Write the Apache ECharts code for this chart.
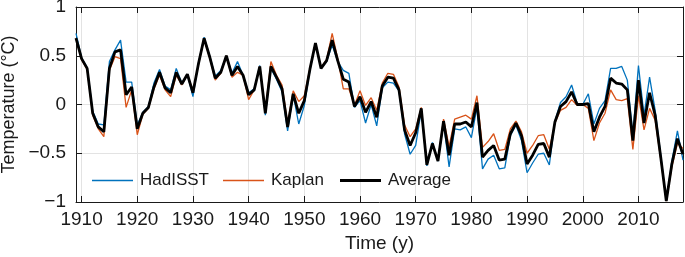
<!DOCTYPE html>
<html>
<head>
<meta charset="utf-8">
<script src="https://cdn.jsdelivr.net/npm/echarts@6/dist/echarts.min.js"></script>
<style>
  html, body { margin: 0; padding: 0; background: #fff; }
  #chart { width: 685px; height: 257px; }
</style>
</head>
<body>
<div id="chart"></div>
<script>
// annual anomalies, 1909..2018
const FIRST_YEAR = 1909;
const LAST_YEAR = 2018;

const hadisst = [
  0.73,
  0.48, 0.38, -0.07, -0.20, -0.21, 0.44, 0.56, 0.66, 0.23, 0.23,
  -0.21, -0.08, -0.02, 0.22, 0.36, 0.19, 0.15, 0.37, 0.22, 0.31,
  0.08, 0.43, 0.69, 0.50, 0.29, 0.35, 0.50, 0.32, 0.44, 0.30,
  0.12, 0.16, 0.40, -0.11, 0.37, 0.26, 0.13, -0.27, 0.10, -0.20,
  -0.01, 0.35, 0.63, 0.37, 0.44, 0.61, 0.44, 0.35, 0.32, -0.03,
  0.04, -0.19, 0.00, -0.22, 0.17, 0.23, 0.22, 0.14, -0.30, -0.51,
  -0.42, -0.06, -0.63, -0.39, -0.58, -0.19, -0.64, -0.25, -0.26, -0.23,
  -0.34, -0.03, -0.66, -0.56, -0.52, -0.66, -0.65, -0.32, -0.21, -0.37,
  -0.70, -0.60, -0.51, -0.50, -0.62, -0.17, 0.02, 0.08, 0.20, 0.01,
  0.00, 0.11, -0.20, -0.04, 0.04, 0.37, 0.37, 0.39, 0.25, -0.30,
  0.40, -0.11, 0.28, -0.06, -0.52, -0.99, -0.58, -0.27, -0.57
];

const kaplan = [
  0.68,
  0.46, 0.36, -0.11, -0.25, -0.33, 0.35, 0.49, 0.47, -0.03, 0.15,
  -0.31, -0.10, -0.04, 0.16, 0.30, 0.15, 0.08, 0.30, 0.20, 0.31,
  0.14, 0.41, 0.67, 0.48, 0.25, 0.32, 0.50, 0.28, 0.33, 0.30,
  0.05, 0.15, 0.39, -0.06, 0.44, 0.30, 0.20, -0.19, 0.14, 0.03,
  0.09, 0.37, 0.63, 0.38, 0.46, 0.73, 0.47, 0.16, 0.16, -0.01,
  0.14, -0.01, 0.07, -0.06, 0.22, 0.32, 0.31, 0.18, -0.21, -0.33,
  -0.25, -0.03, -0.60, -0.41, -0.57, -0.15, -0.43, -0.15, -0.13, -0.11,
  -0.15, 0.09, -0.44, -0.38, -0.30, -0.47, -0.46, -0.25, -0.17, -0.28,
  -0.50, -0.42, -0.32, -0.31, -0.46, -0.19, -0.06, -0.03, 0.05, -0.01,
  0.00, -0.04, -0.37, -0.19, -0.09, 0.15, 0.05, 0.04, 0.06, -0.46,
  0.09, -0.26, -0.04, -0.16, -0.56, -0.99, -0.64, -0.40, -0.45
];

const average = [
  0.68,
  0.47, 0.37, -0.09, -0.23, -0.28, 0.37, 0.54, 0.56, 0.10, 0.18,
  -0.25, -0.09, -0.03, 0.18, 0.33, 0.17, 0.12, 0.33, 0.21, 0.31,
  0.12, 0.42, 0.68, 0.49, 0.27, 0.33, 0.50, 0.30, 0.39, 0.30,
  0.10, 0.15, 0.39, -0.09, 0.39, 0.28, 0.16, -0.23, 0.11, -0.09,
  0.04, 0.36, 0.63, 0.37, 0.45, 0.66, 0.45, 0.26, 0.23, -0.02,
  0.08, -0.08, 0.03, -0.13, 0.19, 0.28, 0.27, 0.15, -0.26, -0.42,
  -0.29, -0.04, -0.62, -0.40, -0.58, -0.17, -0.52, -0.20, -0.20, -0.18,
  -0.23, 0.02, -0.54, -0.47, -0.42, -0.57, -0.56, -0.30, -0.19, -0.32,
  -0.61, -0.52, -0.41, -0.40, -0.54, -0.18, -0.02, 0.03, 0.13, 0.00,
  0.00, 0.01, -0.28, -0.13, -0.02, 0.27, 0.22, 0.21, 0.15, -0.37,
  0.25, -0.19, 0.12, -0.11, -0.54, -0.99, -0.61, -0.35, -0.51
];

const years = [];
for (let y = FIRST_YEAR; y <= LAST_YEAR; y++) years.push(String(y));

const yTicks = [-1, -0.5, 0, 0.5, 1];

const FONT = '"Liberation Sans", Arial, Helvetica, sans-serif';
const INK = '#1a1a1a';
const GRID = '#e3e3e3';
const isDecade = (i, v) => Number(v) % 10 === 0;

const chart = echarts.init(document.getElementById('chart'), null, { renderer: 'canvas' });

// one legend per entry so each sits where the original put it
function legendAt(left, name, thick) {
  return {
    orient: 'horizontal',
    left: left,
    top: 172,
    height: 17,
    padding: 0,
    icon: 'rect',
    itemWidth: 41,
    itemHeight: thick,
    data: [name],
    textStyle: { fontFamily: FONT, fontSize: 17, color: INK, padding: [0, 0, 0, 2] },
  };
}

chart.setOption({
  animation: false,
  backgroundColor: '#fff',
  grid: { left: 76, right: 2, top: 7, bottom: 55, containLabel: false, outerBoundsMode: 'none' },
  legend: [
    legendAt(92, 'HadISST', 1.5),
    legendAt(223, 'Kaplan', 1.5),
    legendAt(340, 'Average', 3),
  ],
  xAxis: [
    {
      type: 'category',
      data: years,
      boundaryGap: false,
      name: 'Time (y)',
      nameLocation: 'middle',
      nameGap: 32,
      nameTextStyle: { fontFamily: FONT, fontSize: 19, color: INK },
      axisLine: { onZero: false, lineStyle: { color: INK, width: 1 } },
      axisTick: { inside: true, length: 6, interval: isDecade, lineStyle: { color: INK } },
      axisLabel: { interval: isDecade, fontFamily: FONT, fontSize: 19, color: INK, margin: 8 },
      splitLine: { show: true, interval: isDecade, lineStyle: { color: GRID, width: 1 } },
    },
    {
      type: 'category',
      data: years,
      boundaryGap: false,
      position: 'top',
      axisLine: { onZero: false, lineStyle: { color: INK, width: 1 } },
      axisTick: { inside: true, length: 6, interval: isDecade, lineStyle: { color: INK } },
      axisLabel: { show: false },
      splitLine: { show: false },
    },
  ],
  yAxis: [
    {
      type: 'value',
      min: yTicks[0],
      max: yTicks[yTicks.length - 1],
      interval: 0.5,
      name: 'Temperature (°C)',
      nameLocation: 'middle',
      nameGap: 56,
      nameTextStyle: { fontFamily: FONT, fontSize: 18, color: INK },
      axisLine: { show: true, onZero: false, lineStyle: { color: INK, width: 1 } },
      axisTick: { show: true, inside: true, length: 6, lineStyle: { color: INK } },
      axisLabel: {
        fontFamily: FONT, fontSize: 19, color: INK, margin: 10,
        formatter: (v) => String(v).replace('-', '\u2212'),
      },
      splitLine: { show: true, lineStyle: { color: GRID, width: 1 } },
    },
    {
      type: 'value',
      min: yTicks[0],
      max: yTicks[yTicks.length - 1],
      interval: 0.5,
      position: 'right',
      axisLine: { show: true, onZero: false, lineStyle: { color: INK, width: 1 } },
      axisTick: { show: true, inside: true, length: 6, lineStyle: { color: INK } },
      axisLabel: { show: false },
      splitLine: { show: false },
    },
  ],
  series: [
    {
      name: 'HadISST',
      type: 'line',
      data: hadisst,
      symbol: 'none',
      lineStyle: { color: '#0072BD', width: 1.3 },
      itemStyle: { color: '#0072BD' },
    },
    {
      name: 'Kaplan',
      type: 'line',
      data: kaplan,
      symbol: 'none',
      lineStyle: { color: '#D95319', width: 1.3 },
      itemStyle: { color: '#D95319' },
    },
    {
      name: 'Average',
      type: 'line',
      data: average,
      symbol: 'none',
      lineStyle: { color: '#000', width: 2.8 },
      itemStyle: { color: '#000' },
    },
  ],
});
</script>
</body>
</html>
